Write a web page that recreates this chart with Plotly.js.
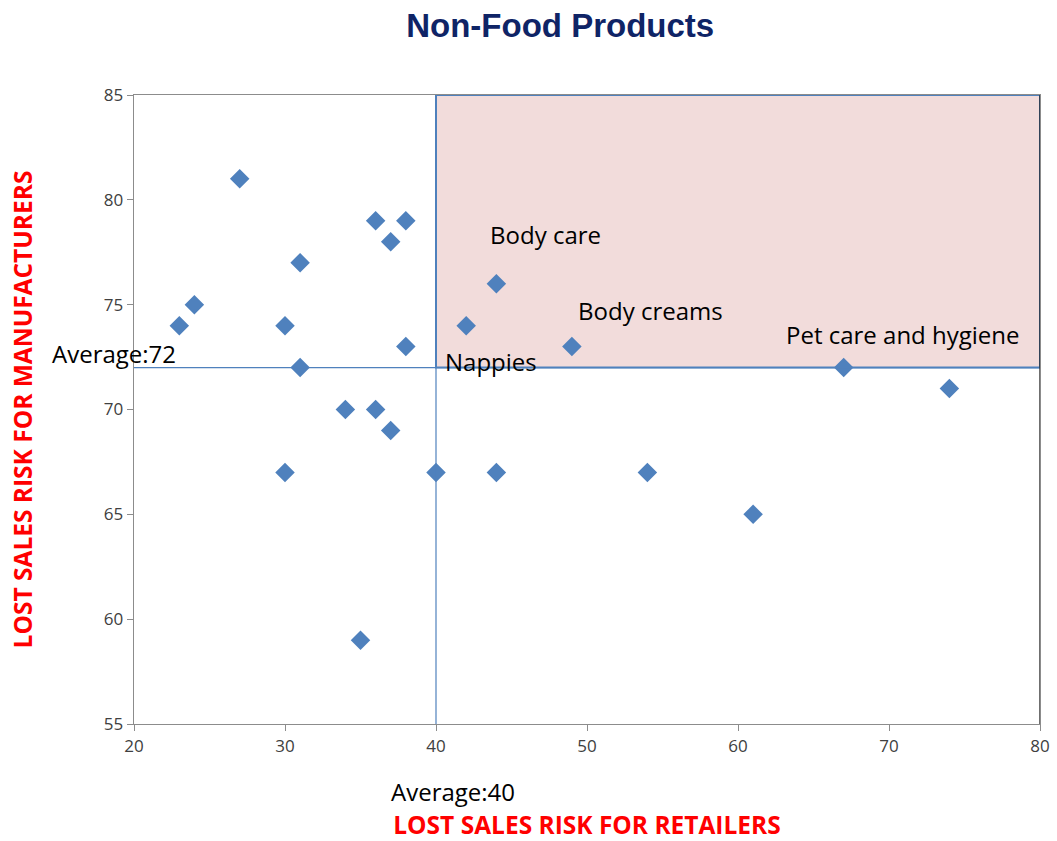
<!DOCTYPE html>
<html>
<head>
<meta charset="utf-8">
<script src="https://cdn.plot.ly/plotly-3.0.1.min.js"></script>
<style>html,body{margin:0;padding:0;background:#fff;}#chart{width:1057px;height:841px;}</style>
</head>
<body>
<div id="chart"></div>
<script>
// Data: lost sales risk for retailers (x) and manufacturers (y)
const retailerRisk = [27, 23, 24, 31, 30, 31, 36, 38, 37, 38, 34, 36, 37, 30, 35, 40, 44, 42, 44, 49, 54, 61, 67, 74];
const manufacturerRisk = [81, 74, 75, 77, 74, 72, 79, 79, 78, 73, 70, 70, 69, 67, 59, 67, 67, 74, 76, 73, 67, 65, 72, 71];
const avgRetailer = 40;
const avgManufacturer = 72;
const xRange = [20, 80];
const yRange = [55, 85];
const labelNames = ["Body care", "Body creams", "Pet care and hygiene", "Nappies"];
const labelPointIdx = [18, 19, 22, 17];
const labelShiftX = [-8, 4, -60, -23];
const labelShiftY = [49, 36, 33, -36];

const FONT = "'Open Sans', Lato, sans-serif";
const blue = "#4F81BD";

const trace = {
  type: "scatter",
  mode: "markers",
  x: retailerRisk,
  y: manufacturerRisk,
  marker: {symbol: "diamond", size: 15, color: blue, line: {width: 0}},
  hoverinfo: "x+y",
  showlegend: false
};

const annotations = labelNames.map((t, i) => ({
  text: t, x: retailerRisk[labelPointIdx[i]], y: manufacturerRisk[labelPointIdx[i]],
  xref: "x", yref: "y", xanchor: "left", yanchor: "middle",
  xshift: labelShiftX[i], yshift: labelShiftY[i], showarrow: false,
  font: {family: FONT, size: 24, color: "#000"}
}));
annotations.push({
  text: "Average:" + avgManufacturer, x: -0.0925, y: avgManufacturer, xref: "paper", yref: "y",
  xanchor: "left", yanchor: "middle", yshift: 14, showarrow: false,
  font: {family: FONT, size: 24, color: "#000"}
});
annotations.push({
  text: "Average:" + avgRetailer, x: avgRetailer, y: -0.108, xref: "x", yref: "paper",
  xanchor: "center", yanchor: "middle", xshift: 17, showarrow: false,
  font: {family: FONT, size: 24, color: "#000"}
});

const shapes = [
  {type: "rect", xref: "x", yref: "y", x0: avgRetailer, x1: xRange[1], y0: avgManufacturer, y1: yRange[1],
   fillcolor: "#F2DCDB", line: {color: blue, width: 2}, layer: "below"},
  {type: "line", xref: "x", yref: "y", x0: avgRetailer, x1: avgRetailer, y0: yRange[0], y1: yRange[1],
   line: {color: blue, width: 1.2}, layer: "above"},
  {type: "line", xref: "x", yref: "y", x0: xRange[0], x1: xRange[1], y0: avgManufacturer, y1: avgManufacturer,
   line: {color: blue, width: 1.2}, layer: "above"},
  {type: "line", xref: "x", yref: "paper", x0: xRange[1], x1: xRange[1], y0: 0, y1: 1,
   line: {color: "#222", width: 1.3}, layer: "above"}
];

const layout = {
  width: 1057, height: 841,
  margin: {l: 134, r: 17, t: 95, b: 117},
  paper_bgcolor: "#fff", plot_bgcolor: "#fff",
  title: {text: "<b>Non-Food Products</b>", x: 0.53, xanchor: "center", y: 0.97, yanchor: "middle",
          font: {family: "'Liberation Sans', Arial, sans-serif", size: 33, color: "#0F2466"}},
  xaxis: {
    range: xRange, dtick: 10, tick0: 20, showgrid: false, zeroline: false,
    showline: true, linecolor: "#8C8C8C", linewidth: 1.3, mirror: true,
    ticks: "outside", ticklen: 6, tickcolor: "#8C8C8C",
    tickfont: {family: FONT, size: 17, color: "#404040"},
    title: {text: "<b>LOST SALES RISK FOR RETAILERS</b>", standoff: 62,
            font: {family: FONT, size: 24.5, color: "#FF0000"}}
  },
  yaxis: {
    range: yRange, dtick: 5, tick0: 55, showgrid: false, zeroline: false,
    showline: true, linecolor: "#8C8C8C", linewidth: 1.3, mirror: true,
    ticks: "outside", ticklen: 6, tickcolor: "#8C8C8C",
    tickfont: {family: FONT, size: 17, color: "#404040"},
    title: {text: "<b>LOST SALES RISK FOR MANUFACTURERS</b>", standoff: 64,
            font: {family: FONT, size: 24.5, color: "#FF0000"}}
  },
  shapes: shapes,
  annotations: annotations,
  showlegend: false
};

Plotly.newPlot("chart", [trace], layout, {displayModeBar: false, staticPlot: true});
</script>
</body>
</html>
